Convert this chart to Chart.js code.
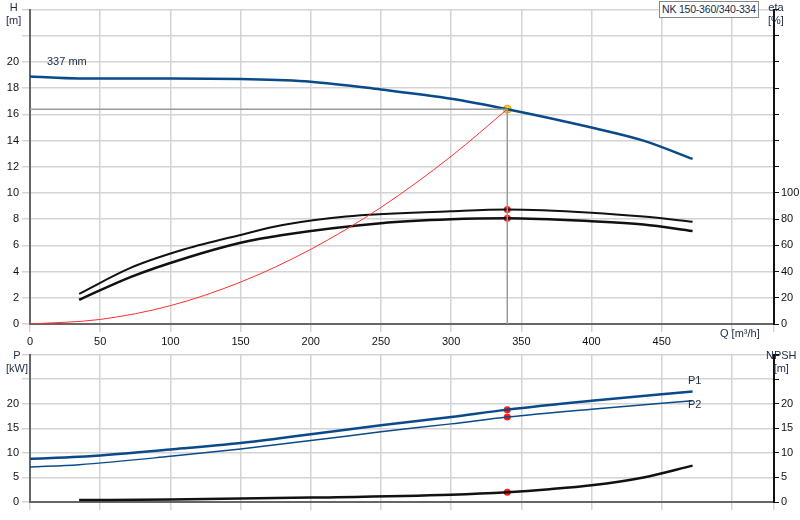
<!DOCTYPE html>
<html><head><meta charset="utf-8">
<script src="https://cdn.jsdelivr.net/npm/chart.js@4/dist/chart.umd.min.js"></script>
<style>
body{margin:0;background:#fff;font-family:"Liberation Sans",Arial,sans-serif;}
#wrap{position:relative;width:800px;height:520px;}
canvas{position:absolute;left:0;}
.t{position:absolute;font-size:11px;color:#1a2a44;line-height:13px;text-align:center;}
</style></head><body>
<div id="wrap">
<canvas id="top" style="top:0" width="800" height="345"></canvas>
<canvas id="bot" style="top:345px" width="800" height="175"></canvas>
<div class="t" style="left:6px;top:1px">H<br>[m]</div>
<div class="t" style="left:768px;top:1px">eta<br>[%]</div>
<div class="t" style="left:720px;top:327px">Q [m³/h]</div>
<div class="t" style="left:6px;top:349px">P<br>[kW]</div>
<div class="t" style="left:766px;top:349px">NPSH<br>[m]</div>
<div class="t" style="left:47px;top:55px">337 mm</div>
<div class="t" style="left:688px;top:374px">P1</div>
<div class="t" style="left:688px;top:398px">P2</div>
<div class="t" style="left:659px;top:1px;border:1px solid #888;padding:1px 2px;background:#fff;font-size:10.5px;letter-spacing:-0.2px">NK 150-360/340-334</div>
</div>
<script>
Chart.defaults.font.family = '"Liberation Sans", Arial, sans-serif';
Chart.defaults.font.size = 11;
Chart.defaults.color = '#111';

const headQ = [0, 35, 100, 150, 200, 250, 300, 340, 400, 437, 472];
const headH = [18.9, 18.75, 18.75, 18.7, 18.5, 17.9, 17.2, 16.4, 15.0, 14.0, 12.6];
const etaQ = [35, 72, 110, 150, 180, 225, 300, 340, 400, 437, 472];
const etaUpper = [23, 43, 57, 68, 75.5, 82, 86, 87.4, 85, 82, 78];
const etaLowerQ = [35, 72, 110, 150, 180, 250, 300, 340, 400, 437, 472];
const etaLower = [18.5, 36, 50, 62, 68, 77, 80, 80.7, 78.5, 76, 71];
const sysQ = [0, 50, 100, 150, 200, 250, 300, 340];
const sysH = [0, 0.35, 1.4, 3.2, 5.7, 8.9, 12.8, 16.4];
const dutyQ = 340, dutyH = 16.4, dutyEta = [87.4, 80.7];
const powerQ = [0, 35, 100, 150, 200, 250, 300, 340, 400, 472];
const powerP1 = [8.8, 9.2, 10.7, 12, 13.8, 15.6, 17.3, 18.8, 20.6, 22.5];
const powerP2 = [7.1, 7.6, 9.3, 10.8, 12.5, 14.3, 15.9, 17.3, 18.9, 20.6];
const npshQ = [35, 100, 200, 300, 340, 370, 400, 437, 472];
const npshH = [0.4, 0.5, 0.9, 1.5, 2.0, 2.6, 3.4, 5.0, 7.4];
const dutyP = [18.8, 17.3], dutyNpsh = 2.0;

const pts = (xs, ys) => xs.map((x, i) => ({x: x, y: ys[i]}));
const line = (data, color, w, axis) => ({data, borderColor: color, borderWidth: w, showLine: true, pointRadius: 0, yAxisID: axis, fill: false});
const dots = (data, color, axis) => ({data, backgroundColor: color, borderColor: color, pointRadius: 3.5, borderWidth: 0, showLine: false, yAxisID: axis});
const grid = {color: '#d4d4d4', lineWidth: 1.5};
const rgrid = {drawOnChartArea: false, tickLength: 5, color: '#111'};
const fixW = w => (s => { s.width = w; });
const fixH = h => (s => { s.height = h; });

new Chart(document.getElementById('top'), {
  type: 'scatter',
  data: {datasets: [
    line([{x: 0, y: dutyH}, {x: dutyQ, y: dutyH}, {x: dutyQ, y: 0}], '#999', 1.5, 'y'),
    line(pts(sysQ, sysH), '#ff3030', 1, 'y'),
    line(pts(headQ, headH), '#0a4a8a', 2.5, 'y'),
    line(pts(etaQ, etaUpper), '#111', 2, 'y1'),
    line(pts(etaLowerQ, etaLower), '#111', 2.5, 'y1'),
    dots(dutyEta.map(v => ({x: dutyQ, y: v})), '#ff1a1a', 'y1'),
    {data: [{x: dutyQ, y: dutyH}], backgroundColor: '#ffd020', borderColor: '#e0a000', pointRadius: 4, yAxisID: 'y'}
  ]},
  options: {
    responsive: false, animation: false,
    plugins: {legend: {display: false}, tooltip: {enabled: false}},
    elements: {line: {cubicInterpolationMode: 'monotone'}},
    scales: {
      x: {min: 0, max: 530, ticks: {stepSize: 50, maxRotation: 0, callback: v => v > 450 ? '' : v}, grid, border: {color: '#666', width: 2}, afterFit: fixH(21)},
      y: {min: 0, max: 24, ticks: {stepSize: 2, callback: v => v > 20 ? '' : v}, grid, border: {color: '#666', width: 2}, afterFit: fixW(30)},
      y1: {position: 'right', min: 0, max: 240, ticks: {stepSize: 20, padding: 2, callback: v => v > 100 ? '' : v}, grid: rgrid, border: {color: '#111', width: 2}, afterFit: fixW(26)}
    }
  }
});

new Chart(document.getElementById('bot'), {
  type: 'scatter',
  data: {datasets: [
    line(pts(powerQ, powerP1), '#0a4a8a', 2.5, 'y'),
    line(pts(powerQ, powerP2), '#0a4a8a', 1.5, 'y'),
    line(pts(npshQ, npshH), '#111', 2.5, 'y1'),
    dots(dutyP.map(v => ({x: dutyQ, y: v})), '#ff1a1a', 'y'),
    dots([{x: dutyQ, y: dutyNpsh}], '#ff1a1a', 'y1')
  ]},
  options: {
    responsive: false, animation: false,
    plugins: {legend: {display: false}, tooltip: {enabled: false}},
    layout: {padding: {top: 5}},
    elements: {line: {cubicInterpolationMode: 'monotone'}},
    scales: {
      x: {min: 0, max: 530, ticks: {stepSize: 50, display: false}, grid, border: {color: '#666', width: 2}, afterFit: fixH(18)},
      y: {min: 0, max: 30, ticks: {stepSize: 5, callback: v => v > 20 ? '' : v}, grid, border: {color: '#666', width: 2}, afterFit: fixW(30)},
      y1: {position: 'right', min: 0, max: 30, ticks: {stepSize: 5, padding: 2, callback: v => v > 20 ? '' : v}, grid: rgrid, border: {color: '#111', width: 2}, afterFit: fixW(26)}
    }
  }
});
</script>
</body></html>
